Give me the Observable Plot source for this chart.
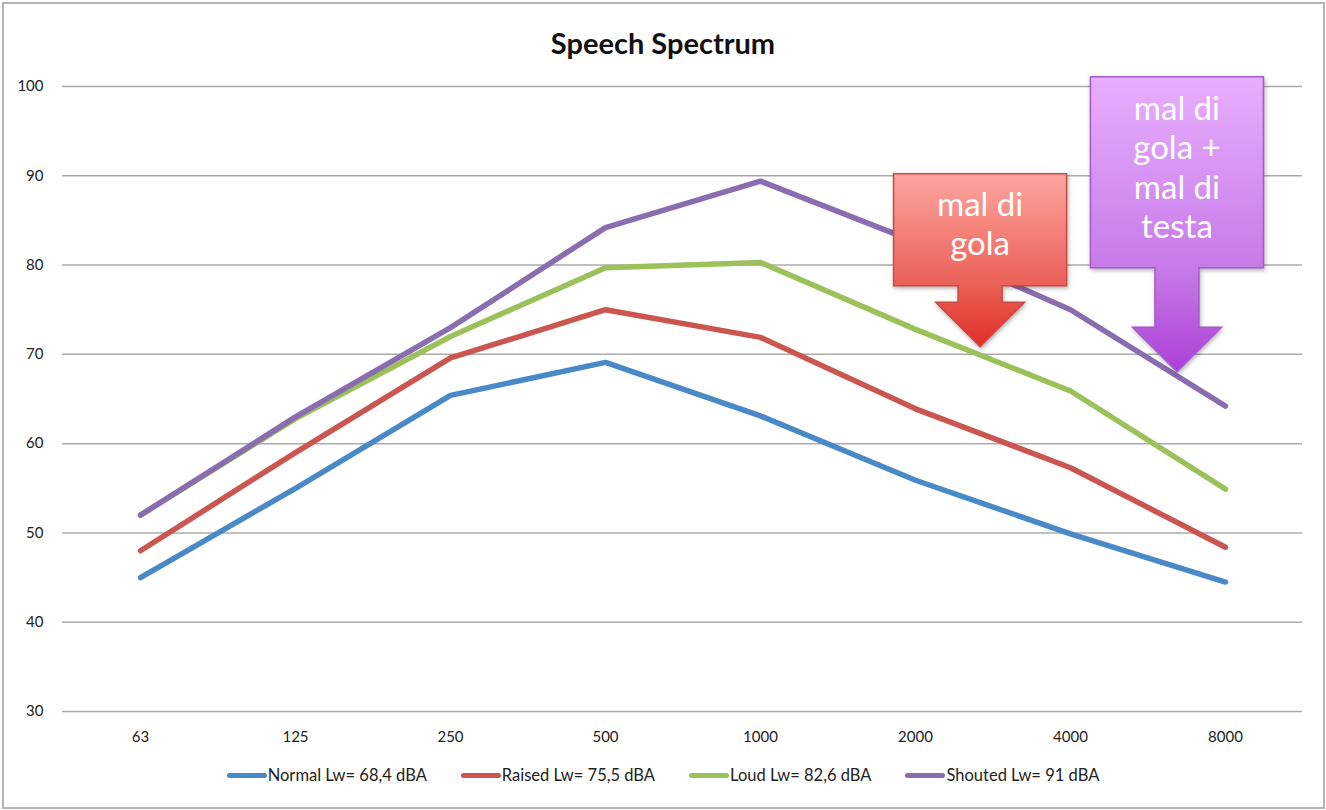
<!DOCTYPE html>
<html>
<head>
<meta charset="utf-8">
<script src="https://cdn.jsdelivr.net/npm/d3@7"></script>
<script src="https://cdn.jsdelivr.net/npm/@observablehq/plot@0.6"></script>
<style>
  html, body { margin: 0; padding: 0; background: #fff; }
  #wrap { position: relative; width: 1326px; height: 810px; overflow: hidden; font-family: Lato, "Noto Sans", sans-serif; }
  #frame { position: absolute; left: 2px; top: 2px; width: 1319px; height: 803px; border: 2px solid #b4b4b4; pointer-events: none; }
  #title { position: absolute; left: 0; width: 1326px; top: 25px; text-align: center; font-weight: bold; font-size: 29px; color: #111; }
  #chart { position: absolute; left: 0; top: 0; }
  #legend { position: absolute; left: 0; width: 1326px; top: 765px; display: flex; justify-content: center; gap: 34px; font-size: 16.5px; color: #222; }
  #legend .item { display: flex; align-items: center; }
  #legend .sw { display: inline-block; width: 40px; height: 5px; border-radius: 3px; margin-right: 1px; }
</style>
</head>
<body>
<div id="wrap">
  <div id="chart"></div>
  <div id="title"></div>
  <div id="legend"></div>
  <div id="frame"></div>
</div>
<script>
// ---- data ----
const title = "Speech Spectrum";
const frequencies = ["63", "125", "250", "500", "1000", "2000", "4000", "8000"];
const seriesNames = ["Normal Lw= 68,4 dBA", "Raised Lw= 75,5 dBA", "Loud Lw= 82,6 dBA", "Shouted Lw= 91 dBA"];
const normal  = [45.0, 55.0, 65.4, 69.1, 63.1, 55.9, 49.9, 44.5];
const raised  = [48.0, 59.0, 69.6, 75.0, 71.9, 63.9, 57.3, 48.4];
const loud    = [52.0, 62.8, 72.0, 79.7, 80.3, 72.8, 65.9, 54.9];
const shouted = [52.0, 63.0, 73.0, 84.2, 89.4, 82.6, 75.0, 64.2];
const seriesColors = ["#4a89c8", "#cb5650", "#9bc15b", "#8a6cb0"];
const yTicks = [30, 40, 50, 60, 70, 80, 90, 100];
// callouts: text lines, anchored between two frequencies at a value
const callouts = [
  { lines: ["mal di", "gola"], from: "2000", to: "4000", frac: 0.42, value: 70.8,
    top: "#fda6a0", mid: "#ea5f56", bottom: "#df2f28", stroke: "#cc4a42" },
  { lines: ["mal di", "gola +", "mal di", "testa"], from: "4000", to: "8000", frac: 0.69, value: 68.0,
    top: "#e9aeff", mid: "#c77ae8", bottom: "#ad3fd6", stroke: "#a65bc9" }
];

// ---- table ----
const allValues = [normal, raised, loud, shouted];
const table = [];
seriesNames.forEach((s, i) => frequencies.forEach((f, j) => table.push({ series: s, freq: f, value: allValues[i][j] })));

document.getElementById("title").textContent = title;

// custom callout mark
function calloutMark(index, scales, values, dimensions, context) {
  const g = d3.create("svg:g");
  const defs = g.append("defs");
  callouts.forEach((c, k) => {
    const x0 = scales.x(c.from), x1 = scales.x(c.to);
    const tx = x0 + (x1 - x0) * c.frac;
    const ty = scales.y(c.value);
    const n = c.lines.length;
    const boxH = n === 2 ? 112 : 191;
    const boxBottom = ty - (n === 2 ? 61 : 104);
    const boxTop = boxBottom - boxH;
    const headTop = ty - 44.5;
    const hw = 86.5, sw = 22, aw = 44.5;
    const id = "cg" + k;
    const grad = defs.append("linearGradient").attr("id", id)
      .attr("gradientUnits", "userSpaceOnUse")
      .attr("x1", 0).attr("x2", 0).attr("y1", boxTop).attr("y2", ty);
    grad.append("stop").attr("offset", 0).attr("stop-color", c.top);
    grad.append("stop").attr("offset", (boxBottom - boxTop) / (ty - boxTop)).attr("stop-color", c.mid);
    grad.append("stop").attr("offset", 1).attr("stop-color", c.bottom);
    const pts = [
      [tx - hw, boxTop], [tx + hw, boxTop], [tx + hw, boxBottom], [tx + sw, boxBottom],
      [tx + sw, headTop], [tx + aw, headTop], [tx, ty], [tx - aw, headTop],
      [tx - sw, headTop], [tx - sw, boxBottom], [tx - hw, boxBottom]
    ];
    g.append("path")
      .attr("d", "M" + pts.map(p => p.join(",")).join("L") + "Z")
      .attr("fill", `url(#${id})`)
      .attr("stroke", c.stroke).attr("stroke-width", 1.5)
      .style("filter", "drop-shadow(1px 2px 2px rgba(0,0,0,0.3))");
    const lh = 39.5;
    const firstBase = n === 2 ? boxTop + 42 : boxTop + 43;
    c.lines.forEach((t, i) => {
      g.append("text").attr("x", tx).attr("y", firstBase + i * lh)
        .attr("text-anchor", "middle").attr("fill", "#fff")
        .attr("font-size", 33).attr("font-family", "Lato, 'Noto Sans', sans-serif")
        .text(t);
    });
  });
  return g.node();
}

const chart = Plot.plot({
  width: 1326,
  height: 760,
  marginLeft: 62,
  marginRight: 24,
  marginTop: 86,
  marginBottom: 49,
  style: { fontFamily: "Lato, 'Noto Sans', sans-serif", fontSize: "15px", color: "#222", background: "transparent" },
  x: { type: "point", domain: frequencies, padding: 0.5, label: null },
  y: { domain: [30, 100], label: null },
  color: { domain: seriesNames, range: seriesColors },
  marks: [
    Plot.ruleY(yTicks, { stroke: "#ababab", strokeWidth: 1.5 }),
    Plot.axisY(yTicks, { tickSize: 0, tickPadding: 19, label: null, fontSize: 15 }),
    Plot.axisX({ tickSize: 0, tickPadding: 20, label: null, fontSize: 15 }),
    Plot.line(table, { x: "freq", y: "value", z: "series", stroke: "series",
      strokeWidth: 5.5, strokeLinejoin: "round", strokeLinecap: "round" }),
    calloutMark
  ]
});
document.getElementById("chart").appendChild(chart);

// legend
const legend = d3.select("#legend");
seriesNames.forEach((s, i) => {
  const item = legend.append("div").attr("class", "item");
  item.append("span").attr("class", "sw").style("background", seriesColors[i]);
  item.append("span").text(s);
});
</script>
</body>
</html>
